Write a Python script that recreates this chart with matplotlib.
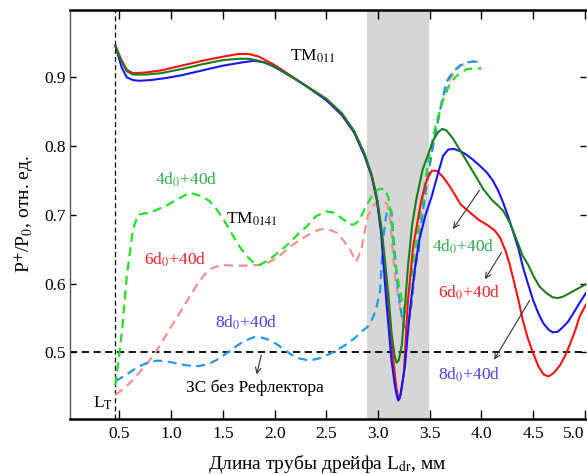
import matplotlib
matplotlib.use("Agg")
import matplotlib.pyplot as plt

plt.rcParams['font.family'] = ['Liberation Serif', 'DejaVu Serif']
plt.rcParams['mathtext.fontset'] = 'stix'

# TM011, solid lines
red_x = [0.46, 0.52, 0.57, 0.63, 0.75, 0.9, 1.1, 1.3, 1.5, 1.65, 1.75, 1.85, 2.0, 2.15, 2.3, 2.5, 2.65, 2.77,
         2.87, 2.94, 2.99, 3.04, 3.09, 3.14, 3.18, 3.2, 3.22, 3.25, 3.29, 3.34, 3.42, 3.47, 3.52, 3.57, 3.63,
         3.7, 3.8, 3.9, 3.98, 4.06, 4.13, 4.18, 4.23, 4.27, 4.31, 4.36, 4.4, 4.45, 4.5, 4.55, 4.6, 4.65, 4.7,
         4.76, 4.81, 4.86, 4.91, 4.95, 5.01]
red_y = [0.946, 0.925, 0.911, 0.906, 0.907, 0.910, 0.917, 0.924, 0.930, 0.934, 0.934, 0.930, 0.918, 0.903,
         0.888, 0.867, 0.845, 0.820, 0.786, 0.756, 0.720, 0.668, 0.590, 0.500, 0.445, 0.432, 0.438, 0.47,
         0.576, 0.654, 0.722, 0.750, 0.764, 0.764, 0.755, 0.740, 0.715, 0.702, 0.692, 0.685, 0.677, 0.667,
         0.649, 0.630, 0.606, 0.575, 0.547, 0.52, 0.499, 0.480, 0.468, 0.465, 0.470, 0.481, 0.495, 0.513,
         0.533, 0.552, 0.569]

green_x = [0.46, 0.52, 0.57, 0.63, 0.75, 0.9, 1.1, 1.3, 1.5, 1.65, 1.75, 1.85, 2.0, 2.15, 2.3, 2.5, 2.65,
           2.77, 2.87, 2.94, 2.99, 3.03, 3.07, 3.10, 3.13, 3.16, 3.18, 3.20, 3.23, 3.26, 3.29, 3.33, 3.37,
           3.43, 3.49, 3.54, 3.58, 3.62, 3.66, 3.72, 3.79, 3.87, 3.95, 4.02, 4.1, 4.17, 4.21, 4.27, 4.34,
           4.40, 4.45, 4.50, 4.56, 4.63, 4.69, 4.74, 4.79, 4.84, 4.9, 4.95, 5.01]
green_y = [0.946, 0.923, 0.909, 0.904, 0.904, 0.906, 0.912, 0.919, 0.925, 0.927, 0.927, 0.924, 0.916, 0.902,
           0.888, 0.869, 0.848, 0.822, 0.789, 0.758, 0.725, 0.685, 0.630, 0.585, 0.530, 0.495, 0.485, 0.488,
           0.510, 0.565, 0.625, 0.685, 0.722, 0.765, 0.790, 0.810, 0.820, 0.825, 0.823, 0.812, 0.795, 0.775,
           0.755, 0.737, 0.722, 0.712, 0.706, 0.690, 0.664, 0.640, 0.628, 0.612, 0.596, 0.586, 0.580, 0.579,
           0.581, 0.585, 0.590, 0.594, 0.599]

blue_x = [0.46, 0.52, 0.57, 0.63, 0.69, 0.8, 0.95, 1.1, 1.3, 1.5, 1.7, 1.8, 1.9, 2.0, 2.15, 2.3, 2.5, 2.65,
          2.77, 2.87, 2.94, 2.99, 3.03, 3.08, 3.13, 3.16, 3.18, 3.195, 3.21, 3.23, 3.26, 3.29, 3.32, 3.36,
          3.40, 3.46, 3.52, 3.58, 3.63, 3.68, 3.73, 3.79, 3.85, 3.92, 3.98, 4.05, 4.11, 4.16, 4.21, 4.26,
          4.31, 4.36, 4.40, 4.45, 4.50, 4.55, 4.60, 4.65, 4.69, 4.74, 4.79, 4.84, 4.89, 4.95, 5.01]
blue_y = [0.946, 0.915, 0.900, 0.896, 0.895, 0.896, 0.899, 0.903, 0.910, 0.917, 0.922, 0.924, 0.922, 0.915,
          0.902, 0.888, 0.867, 0.846, 0.820, 0.786, 0.756, 0.722, 0.674, 0.576, 0.489, 0.455, 0.438, 0.430,
          0.433, 0.450, 0.479, 0.53, 0.576, 0.625, 0.664, 0.700, 0.727, 0.760, 0.786, 0.795, 0.796, 0.793,
          0.788, 0.780, 0.772, 0.762, 0.750, 0.736, 0.718, 0.697, 0.674, 0.650, 0.625, 0.600, 0.576, 0.557,
          0.542, 0.533, 0.529, 0.530, 0.537, 0.545, 0.557, 0.572, 0.586]

# TM0141, dashed lines
dgreen_x = [0.46, 0.48, 0.5, 0.53, 0.57, 0.63, 0.68, 0.74, 0.79, 0.87, 0.95, 1.05, 1.18, 1.30, 1.37, 1.44,
            1.52, 1.60, 1.67, 1.73, 1.80, 1.855, 1.95, 2.05, 2.15, 2.24, 2.31, 2.40, 2.50, 2.58, 2.65, 2.73,
            2.77, 2.82, 2.87, 2.92, 2.97, 3.02, 3.07, 3.10, 3.12, 3.16, 3.21, 3.26, 3.31, 3.37, 3.45, 3.50,
            3.55, 3.63, 3.70, 3.76, 3.86, 3.93, 4.0]
dgreen_y = [0.452, 0.475, 0.499, 0.540, 0.610, 0.679, 0.700, 0.702, 0.703, 0.708, 0.713, 0.722, 0.732, 0.727,
            0.720, 0.708, 0.690, 0.669, 0.652, 0.640, 0.630, 0.627, 0.635, 0.647, 0.660, 0.674, 0.683, 0.698,
            0.705, 0.703, 0.695, 0.686, 0.686, 0.692, 0.708, 0.722, 0.734, 0.738, 0.737, 0.725, 0.708, 0.635,
            0.591, 0.557, 0.596, 0.659, 0.742, 0.790, 0.825, 0.868, 0.892, 0.902, 0.912, 0.913, 0.913]

dred_x = [0.46, 0.55, 0.63, 0.71, 0.79, 0.87, 0.95, 1.03, 1.11, 1.19, 1.27, 1.34, 1.40, 1.50, 1.60, 1.70,
          1.80, 1.855, 1.93, 2.02, 2.10, 2.17, 2.24, 2.34, 2.44, 2.52, 2.60, 2.67, 2.73, 2.79, 2.84, 2.90,
          2.95, 3.00, 3.05, 3.09, 3.12, 3.16, 3.20, 3.23, 3.28, 3.32, 3.36, 3.39, 3.44, 3.47, 3.52, 3.565,
          3.62, 3.68, 3.74, 3.80, 3.86, 3.92, 4.0]
dred_y = [0.438, 0.448, 0.460, 0.474, 0.488, 0.505, 0.525, 0.545, 0.564, 0.584, 0.603, 0.616, 0.623, 0.627,
          0.626, 0.626, 0.627, 0.627, 0.630, 0.637, 0.647, 0.656, 0.663, 0.672, 0.679, 0.679, 0.674, 0.662,
          0.649, 0.632, 0.650, 0.698, 0.712, 0.720, 0.720, 0.715, 0.690, 0.615, 0.576, 0.552, 0.528, 0.562,
          0.620, 0.649, 0.720, 0.747, 0.790, 0.829, 0.868, 0.893, 0.908, 0.917, 0.921, 0.923, 0.922]

dblue_x = [0.46, 0.55, 0.63, 0.71, 0.79, 0.87, 0.95, 1.05, 1.15, 1.27, 1.36, 1.44, 1.52, 1.60, 1.70, 1.80,
           1.86, 1.93, 2.02, 2.10, 2.17, 2.24, 2.34, 2.45, 2.55, 2.62, 2.70, 2.77, 2.84, 2.90, 2.95, 2.99,
           3.02, 3.05, 3.08, 3.11, 3.13, 3.16, 3.19, 3.24, 3.28, 3.32, 3.36, 3.39, 3.43, 3.47, 3.52, 3.565,
           3.62, 3.66, 3.72, 3.79, 3.86, 3.93, 4.0]
dblue_y = [0.458, 0.466, 0.474, 0.481, 0.486, 0.488, 0.487, 0.484, 0.481, 0.480, 0.483, 0.489, 0.497, 0.506,
           0.516, 0.522, 0.522, 0.519, 0.512, 0.503, 0.496, 0.491, 0.488, 0.492, 0.499, 0.505, 0.512, 0.520,
           0.530, 0.537, 0.550, 0.568, 0.590, 0.665, 0.700, 0.710, 0.705, 0.649, 0.596, 0.542, 0.533, 0.567,
           0.625, 0.645, 0.700, 0.742, 0.790, 0.825, 0.865, 0.893, 0.907, 0.917, 0.922, 0.923, 0.921]

x_ticks = [0.5, 1.0, 1.5, 2.0, 2.5, 3.0, 3.5, 4.0, 4.5, 5.0]
y_ticks = [0.5, 0.6, 0.7, 0.8, 0.9]
L_T = 0.46
no_reflector = 0.5
band = (2.89, 3.49)

fig = plt.figure(figsize=(5.87, 4.74), dpi=100)
ax = fig.add_axes([0.119, 0.116, 0.879, 0.863])

ax.axvspan(band[0], band[1], color='#d6d6d6', lw=0, zorder=0)
ax.axhline(no_reflector, color='black', ls=(0, (4, 2.5)), lw=1.3, zorder=1)
ax.axvline(L_T, color='black', ls=(0, (4, 2.5)), lw=0.9, zorder=1)

dash = (0, (4, 2.5))
ax.plot(dred_x, dred_y, color='#f29090', lw=1.6, ls=dash, zorder=2)
ax.plot(dblue_x, dblue_y, color='#1e9ae8', lw=1.6, ls=dash, zorder=2)
ax.plot(dgreen_x, dgreen_y, color='#22e022', lw=1.6, ls=dash, zorder=2)

ax.plot(red_x, red_y, color='#ff1010', lw=1.5, zorder=3)
ax.plot(blue_x, blue_y, color='#1515ff', lw=1.5, zorder=3)
ax.plot(green_x, green_y, color='#1b7d1b', lw=1.5, zorder=3)

fs = 12.5
ax.text(2.15, 0.93, 'TM$_{011}$', fontsize=fs, va='center')
ax.text(1.53, 0.693, 'TM$_{0141}$', fontsize=fs, va='center')
ax.text(0.84, 0.751, '4d$_0$+40d', fontsize=fs, color='#2aae4a', va='center')
ax.text(0.74, 0.635, '6d$_0$+40d', fontsize=fs, color='#ee2222', va='center')
ax.text(1.42, 0.543, '8d$_0$+40d', fontsize=fs, color='#4646dd', va='center')
ax.text(3.52, 0.654, '4d$_0$+40d', fontsize=fs, color='#2aae4a', va='center')
ax.text(3.58, 0.586, '6d$_0$+40d', fontsize=fs, color='#ee2222', va='center')
ax.text(3.58, 0.467, '8d$_0$+40d', fontsize=fs, color='#4646dd', va='center')
ax.text(1.14, 0.448, 'ЗС без Рефлектора', fontsize=fs, va='center')
ax.text(0.24, 0.426, 'L$_\\mathrm{T}$', fontsize=fs, va='center')

arrow = dict(arrowstyle='->', color='#333333', lw=0.8)
ax.annotate('', xy=(1.82, 0.464), xytext=(1.878, 0.5), arrowprops=arrow)
ax.annotate('', xy=(3.71, 0.676), xytext=(3.996, 0.739), arrowprops=arrow)
ax.annotate('', xy=(4.02, 0.603), xytext=(4.21, 0.649), arrowprops=arrow)
ax.annotate('', xy=(4.11, 0.486), xytext=(4.48, 0.579), arrowprops=arrow)

ax.set_xlim(0.02, 5.01)
ax.set_ylim(0.403, 0.998)
ax.set_xticks(x_ticks)
ax.set_xticklabels(['%.1f' % v for v in x_ticks])
ax.set_yticks(y_ticks)
ax.set_yticklabels(['%.1f' % v for v in y_ticks])
ax.tick_params(axis='both', which='both', direction='in', labelsize=12.5, width=1.0)
ax.tick_params(axis='x', top=True, length=6.5, pad=5)
ax.tick_params(axis='y', right=True, length=4, pad=3)
# last label sits against the right edge
ax.get_xticklabels()[-1].set_horizontalalignment('right')

ax.spines['top'].set_linewidth(1.8)
ax.spines['bottom'].set_linewidth(1.8)
ax.spines['left'].set_linewidth(1.0)
ax.spines['left'].set_color('#555555')
ax.spines['right'].set_visible(False)

ax.set_xlabel('Длина трубы дрейфа L$_{\\mathrm{dr}}$, мм', fontsize=14, labelpad=8)
ax.set_ylabel('P$^{+}$/P$_0$, отн. ед.', fontsize=14, labelpad=6)

fig.savefig('out.png', dpi=100)
